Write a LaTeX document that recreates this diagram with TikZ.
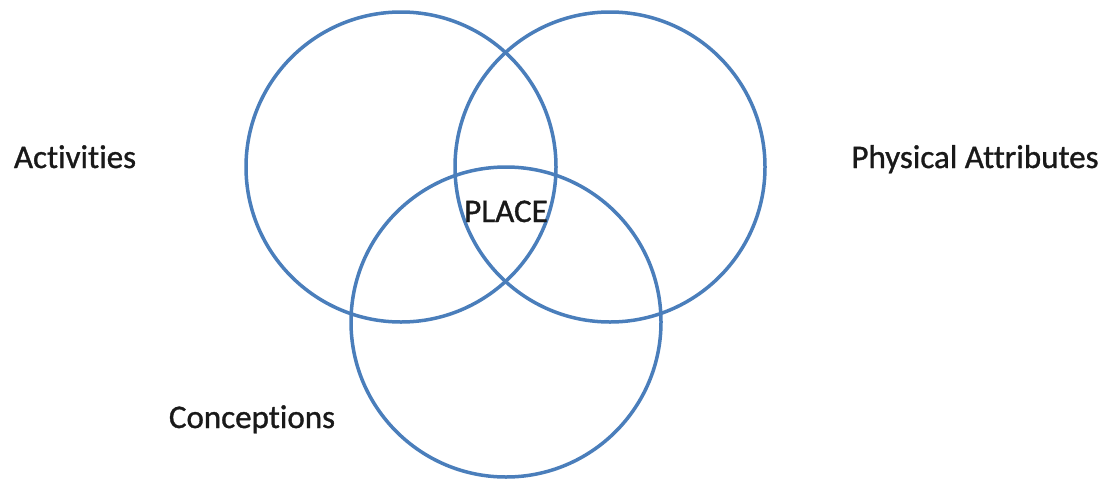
\documentclass[tikz,border=0pt]{standalone}
\usepackage{fontspec}
\setmainfont[Ligatures=CommonOff,FakeBold=1]{Carlito}
\definecolor{ringblue}{HTML}{4A7EBB}
\begin{document}
\begin{tikzpicture}[x=1pt,y=-1pt,
  ring/.style={circle,draw=ringblue,line width=3.5pt,minimum size=310pt,inner sep=0pt},
  lbl/.style={font=\fontsize{33}{38}\selectfont,text=black!90,anchor=base,inner sep=0pt}]
\useasboundingbox (0,0) rectangle (1105,493);
\node[ring] (c1) at (401,167) {};
\node[ring] (c2) at (610,167) {};
\node[ring] (c3) at (506,322) {};
\node[lbl] (act) at (75,168) {Activities};
\node[lbl] (phys) at (975,168) {Physical Attributes};
\node[lbl] (conc) at (252,428) {Conceptions};
\node[lbl] (place) at (506,222) {PLACE};
\end{tikzpicture}
\end{document}
